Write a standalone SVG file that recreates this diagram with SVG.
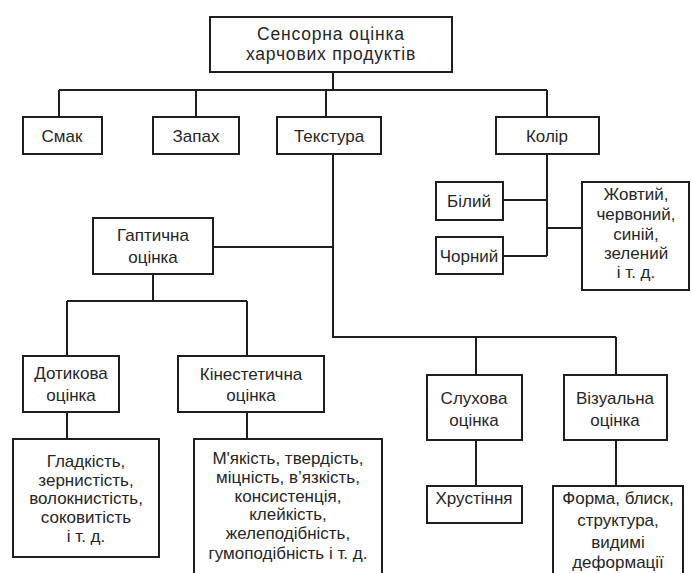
<svg xmlns="http://www.w3.org/2000/svg" width="691" height="573" viewBox="0 0 691 573">
<style>
.box{fill:#fff;stroke:#1e1e1e;stroke-width:2}
.ln{fill:none;stroke:#1e1e1e;stroke-width:2}
text{font-family:"Liberation Sans",Arial,sans-serif;font-size:17px;fill:#262626;text-anchor:middle}
.big{font-size:17.5px;letter-spacing:0.8px}
</style>
<rect width="691" height="573" fill="#fff"/>
<g id="connectors" class="ln">
<path d="M333,72V90M59,90H547M59,90V117M196,90V117M326,90V117M547,90V117"/>
<path d="M333,154V337H616M213,247H333M476,337V375M616,337V375"/>
<path d="M547,154V256M503,200H547M503,256H547M547,228H582"/>
<path d="M153,274V301M67,301H247M67,301V356M247,301V356"/>
<path d="M67,412V439M247,412V439M476,440V486M616,440V486"/>
</g>
<g id="root"><rect class="box" x="210" y="17" width="242" height="55"/><text class="big" x="331" y="40">Сенсорна оцінка</text><text class="big" x="331" y="60">харчових продуктів</text></g>
<g id="smak"><rect class="box" x="23" y="117" width="79" height="37"/><text x="62" y="142">Смак</text></g>
<g id="zapakh"><rect class="box" x="153" y="117" width="86" height="37"/><text x="196" y="142">Запах</text></g>
<g id="tekstura"><rect class="box" x="277" y="117" width="104" height="37"/><text x="329" y="142">Текстура</text></g>
<g id="kolir"><rect class="box" x="496" y="117" width="103" height="37"/><text x="547" y="142">Колір</text></g>
<g id="bilyi"><rect class="box" x="436" y="182" width="67" height="38"/><text x="469" y="207">Білий</text></g>
<g id="chornyi"><rect class="box" x="436" y="237" width="67" height="37"/><text x="469" y="262">Чорний</text></g>
<g id="zhovtyi"><rect class="box" x="582" y="182" width="107" height="108"/><text x="636" y="200">Жовтий,</text><text x="636" y="220">червоний,</text><text x="636" y="240">синій,</text><text x="636" y="259">зелений</text><text x="636" y="278">і т. д.</text></g>
<g id="haptychna"><rect class="box" x="93" y="218" width="120" height="56"/><text x="153" y="241">Гаптична</text><text x="153" y="263">оцінка</text></g>
<g id="dotykova"><rect class="box" x="23" y="356" width="96" height="56"/><text x="71" y="379">Дотикова</text><text x="71" y="401">оцінка</text></g>
<g id="kinestetychna"><rect class="box" x="178" y="356" width="146" height="56"/><text x="251" y="380">Кінестетична</text><text x="251" y="401">оцінка</text></g>
<g id="slukhova"><rect class="box" x="427" y="375" width="95" height="65"/><text x="474" y="404">Слухова</text><text x="474" y="426">оцінка</text></g>
<g id="vizualna"><rect class="box" x="564" y="375" width="103" height="65"/><text x="615" y="404">Візуальна</text><text x="615" y="426">оцінка</text></g>
<g id="hladkist"><rect class="box" x="13" y="439" width="146" height="118"/><text x="86" y="467">Гладкість,</text><text x="86" y="486">зернистість,</text><text x="86" y="504">волокнистість,</text><text x="86" y="523">соковитість</text><text x="86" y="542">і т. д.</text></g>
<g id="miakist"><rect class="box" x="194" y="439" width="188" height="140"/><text x="288" y="464">М'якість, твердість,</text><text x="288" y="483">міцність, в’язкість,</text><text x="288" y="502">консистенція,</text><text x="288" y="520">клейкість,</text><text x="288" y="539">желеподібність,</text><text x="288" y="559">гумоподібність і т. д.</text></g>
<g id="khrustinnia"><rect class="box" x="427" y="486" width="95" height="37"/><text x="474" y="504">Хрустіння</text></g>
<g id="forma"><rect class="box" x="553" y="486" width="130" height="95"/><text x="618" y="504">Форма, блиск,</text><text x="618" y="526">структура,</text><text x="618" y="548">видимі</text><text x="618" y="568">деформації</text></g>
</svg>
